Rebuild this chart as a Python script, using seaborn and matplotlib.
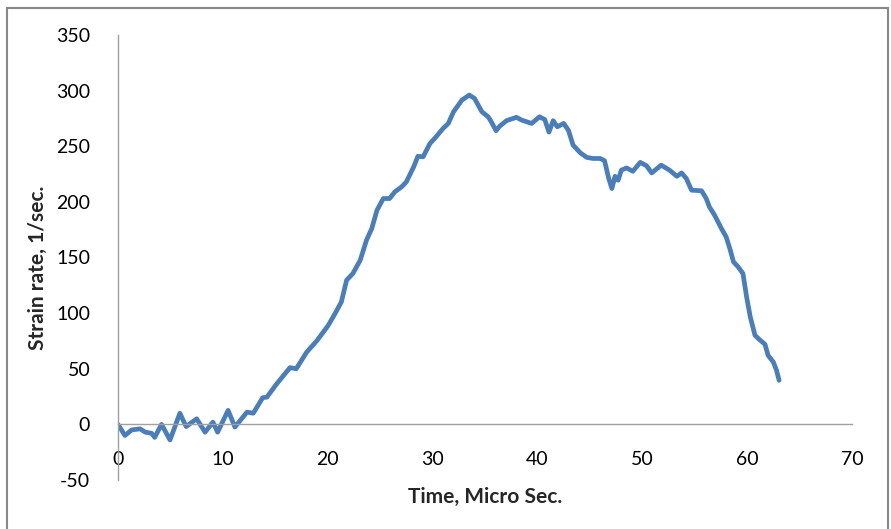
import numpy as np
import pandas as pd
import matplotlib
matplotlib.use("Agg")
import matplotlib.pyplot as plt
import seaborn as sns
from matplotlib.patches import Rectangle

time_us = [0.0, 0.66, 1.3, 2.1, 2.6, 3.2, 3.5, 4.15, 4.96, 5.9, 6.5, 7.5, 8.3, 9.05, 9.5,
           10.5, 11.15, 12.3, 12.9, 13.8, 14.2, 15.1, 16.4, 17.0, 18.0, 19.0, 20.05, 20.7,
           21.3, 21.8, 22.4, 23.1, 23.7, 24.2, 24.7, 25.3, 25.9, 26.4, 27.05, 27.5, 28.2,
           28.6, 29.1, 29.75, 30.2, 31.0, 31.5, 32.0, 32.8, 33.5, 34.0, 34.7, 35.3, 35.6,
           36.05, 36.4, 37.05, 38.0, 38.5, 39.45, 40.2, 40.7, 41.1, 41.5, 41.9, 42.5, 42.95,
           43.4, 44.1, 44.7, 45.3, 46.0, 46.4, 46.8, 47.1, 47.4, 47.7, 48.0, 48.5, 49.1,
           49.8, 50.4, 50.9, 51.8, 52.6, 53.3, 53.75, 54.2, 54.7, 55.65, 56.1, 56.4, 56.9,
           57.55, 58.0, 58.35, 58.7, 59.15, 59.6, 59.95, 60.3, 60.75, 61.2, 61.7, 62.0,
           62.5, 62.8, 63.05]
strain_rate = [0, -10, -5, -4, -7, -8, -11.7, 0, -14, 10, -2, 5, -7, 2, -7,
               12.6, -2.4, 11, 10, 24, 24.5, 36, 51, 50, 65, 75.6, 89, 99.6,
               110, 129.6, 135.6, 147.6, 165.6, 176, 192.5, 203, 203, 209, 213.5, 218, 231.5,
               241, 240.5, 252.5, 257, 266, 270.5, 281, 291.5, 296, 293, 281, 276.5, 272,
               264, 268, 273, 276, 273.5, 270.5, 276.5, 274, 262.7, 273, 267.5, 270.5, 264.5,
               251, 244, 240, 239, 239, 237, 221, 212, 223, 219.5, 228.5, 230.5, 227.5,
               235.5, 232.5, 226, 233, 228.5, 223, 226, 221, 210.5, 210, 203, 195.5, 188,
               176, 168.5, 158, 146, 141.5, 135.6, 114.5, 96.5, 80, 76, 72, 62,
               56, 48.6, 39.6]

x_ticks = [0, 10, 20, 30, 40, 50, 60, 70]
y_ticks = [-50, 0, 50, 100, 150, 200, 250, 300, 350]

sns.set_theme(style="white")
plt.rcParams['font.family'] = ['Lato', 'DejaVu Sans']

fig = plt.figure(figsize=(8.91, 5.29), dpi=100)
ax = fig.add_axes([118/891, 1-480/529, (852-118)/891, (480-35)/529])

df = pd.DataFrame({"t": time_us, "s": strain_rate})
sns.lineplot(data=df, x="t", y="s", ax=ax, color="#4A7EBB", linewidth=3.4, sort=False)
ax.lines[0].set_solid_joinstyle("round")
ax.lines[0].set_solid_capstyle("round")

ax.set_xlim(0, 70)
ax.set_ylim(-50, 350)
ax.set_xticks(x_ticks)
ax.set_yticks(y_ticks)
ax.set_xticklabels([str(v) for v in x_ticks])
ax.set_yticklabels([str(v) for v in y_ticks])

for side in ["top", "right"]:
    ax.spines[side].set_visible(False)
ax.spines["bottom"].set_position(("data", 0))
for side in ["left", "bottom"]:
    ax.spines[side].set_color("#A0A0A0")
    ax.spines[side].set_linewidth(1.0)

ax.tick_params(axis="both", which="major", direction="out", length=5, width=1,
               color="#A0A0A0", labelsize=14, labelcolor="#000000")
ax.tick_params(axis="x", pad=14)
ax.tick_params(axis="y", pad=15)
ax.grid(False)

ax.set_xlabel("")
ax.set_ylabel("")
fig.text(485/891, 1-497/529, "Time, Micro Sec.", ha="center", va="center",
         fontsize=15, fontweight="bold")
fig.text(38/891, 1-268/529, "Strain rate, 1/sec.", ha="center", va="center",
         rotation=90, fontsize=15, fontweight="bold")

fig.patches.append(Rectangle((7/891, -0.02), (888-7)/891, 1.02-8/529 + 0.0,
                             transform=fig.transFigure, fill=False,
                             edgecolor="#888888", linewidth=1.5))

fig.savefig("out.png", dpi=100)
